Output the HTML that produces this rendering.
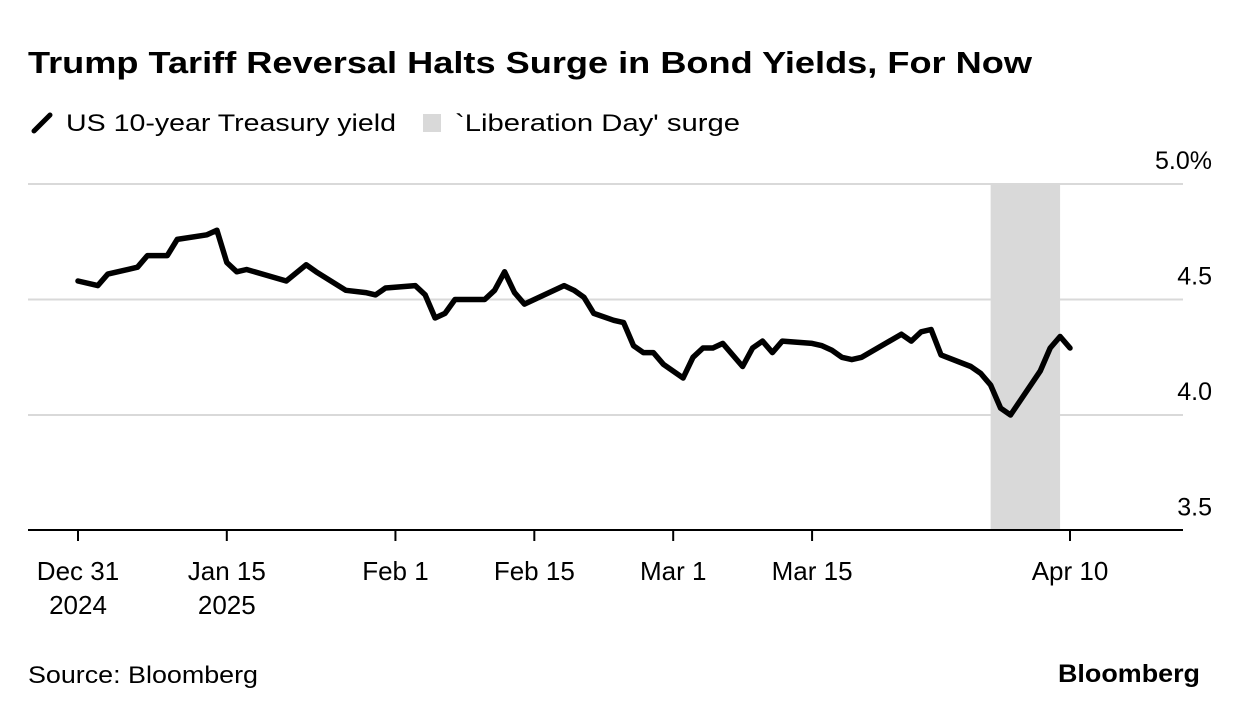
<!DOCTYPE html>
<html><head><meta charset="utf-8"><style>
html,body{margin:0;padding:0;background:#fff;}
svg{display:block;font-family:"Liberation Sans",sans-serif;}
</style></head><body>
<svg id="chart" width="1240" height="716" viewBox="0 0 1240 716" xmlns="http://www.w3.org/2000/svg">
<text x="28" y="73" font-size="31" font-weight="bold" textLength="1004" lengthAdjust="spacingAndGlyphs">Trump Tariff Reversal Halts Surge in Bond Yields, For Now</text>
<g>
<line x1="34" y1="131" x2="50" y2="115" stroke="#000" stroke-width="5" stroke-linecap="round"/>
<text x="66" y="131" font-size="24" textLength="330" lengthAdjust="spacingAndGlyphs">US 10-year Treasury yield</text>
<rect x="423" y="114" width="18" height="18" fill="#d9d9d9"/>
<text x="455" y="131" font-size="24" textLength="285" lengthAdjust="spacingAndGlyphs">`Liberation Day' surge</text>
</g>
<g id="plot"></g>
<text x="28" y="683" font-size="24" textLength="230" lengthAdjust="spacingAndGlyphs">Source: Bloomberg</text>
<text x="1200" y="682" font-size="25" font-weight="bold" text-anchor="end" textLength="142" lengthAdjust="spacingAndGlyphs">Bloomberg</text>
</svg>
<script>
const days = [0,2,3,6,7,9,10,13,14,15,16,17,21,23,24,27,29,30,31,34,35,36,37,38,41,42,43,44,45,49,50,51,52,54,55,56,57,58,59,61,62,63,64,65,67,68,69,70,71,74,75,76,77,78,79,83,84,85,86,87,90,91,92,93,94,97,98,99,100];
const yields = [4.58,4.56,4.61,4.64,4.69,4.69,4.76,4.78,4.80,4.66,4.62,4.63,4.58,4.65,4.62,4.54,4.53,4.52,4.55,4.56,4.52,4.42,4.44,4.50,4.50,4.54,4.62,4.53,4.48,4.56,4.54,4.51,4.44,4.41,4.40,4.30,4.27,4.27,4.22,4.16,4.25,4.29,4.29,4.31,4.21,4.29,4.32,4.27,4.32,4.31,4.30,4.28,4.25,4.24,4.25,4.35,4.32,4.36,4.37,4.26,4.21,4.18,4.13,4.03,4.00,4.19,4.29,4.34,4.29];
const yTicks = [3.5,4.0,4.5,5.0];
const yTickLabels = ["3.5","4.0","4.5","5.0%"];
const xTickDays = [0,15,32,46,60,74,100];
const xTickLine1 = ["Dec 31","Jan 15","Feb 1","Feb 15","Mar 1","Mar 15","Apr 10"];
const xTickLine2 = ["2024","2025","","","","",""];
const shadeRange = [92,99];

const NS="http://www.w3.org/2000/svg";
const g=document.getElementById('plot');
const X=d=>78+d*9.92;
const Y=v=>184+(5-v)*231;
function mk(tag,attrs){const e=document.createElementNS(NS,tag);for(const k in attrs)e.setAttribute(k,attrs[k]);g.appendChild(e);return e;}

const sh=mk('rect',{x:X(shadeRange[0]),y:184,width:X(shadeRange[1])-X(shadeRange[0]),height:346,fill:'#d9d9d9'});



yTicks.forEach((t,i)=>{
  if(t>3.5){
    const l=mk('line',{x1:28,x2:1183,y1:Y(t),y2:Y(t),stroke:'#d9d9d9','stroke-width':2});
    
    
  }
  const tx=mk('text',{x:1212,y:Y(t)-15,'font-size':25,'text-anchor':'end'});
  tx.textContent=yTickLabels[i];
  
  
});
const base=mk('line',{x1:28,x2:1183,y1:530,y2:530,stroke:'#000','stroke-width':2});



xTickDays.forEach((d,i)=>{
  const tk=mk('line',{x1:X(d),x2:X(d),y1:530,y2:541,stroke:'#000','stroke-width':2});
  
  
  const t1=mk('text',{x:X(d),y:580,'font-size':26,'text-anchor':'middle'});
  t1.textContent=xTickLine1[i];
  
  
  if(xTickLine2[i]){
    const t2=mk('text',{x:X(d),y:614,'font-size':26,'text-anchor':'middle'});
    t2.textContent=xTickLine2[i];
    
    
  }
});

const pts=days.map((d,i)=>X(d).toFixed(1)+','+Y(yields[i]).toFixed(1)).join(' ');
const pl=mk('polyline',{points:pts,fill:'none',stroke:'#000','stroke-width':5.5,'stroke-linejoin':'round','stroke-linecap':'round'});


</script>
</body></html>
